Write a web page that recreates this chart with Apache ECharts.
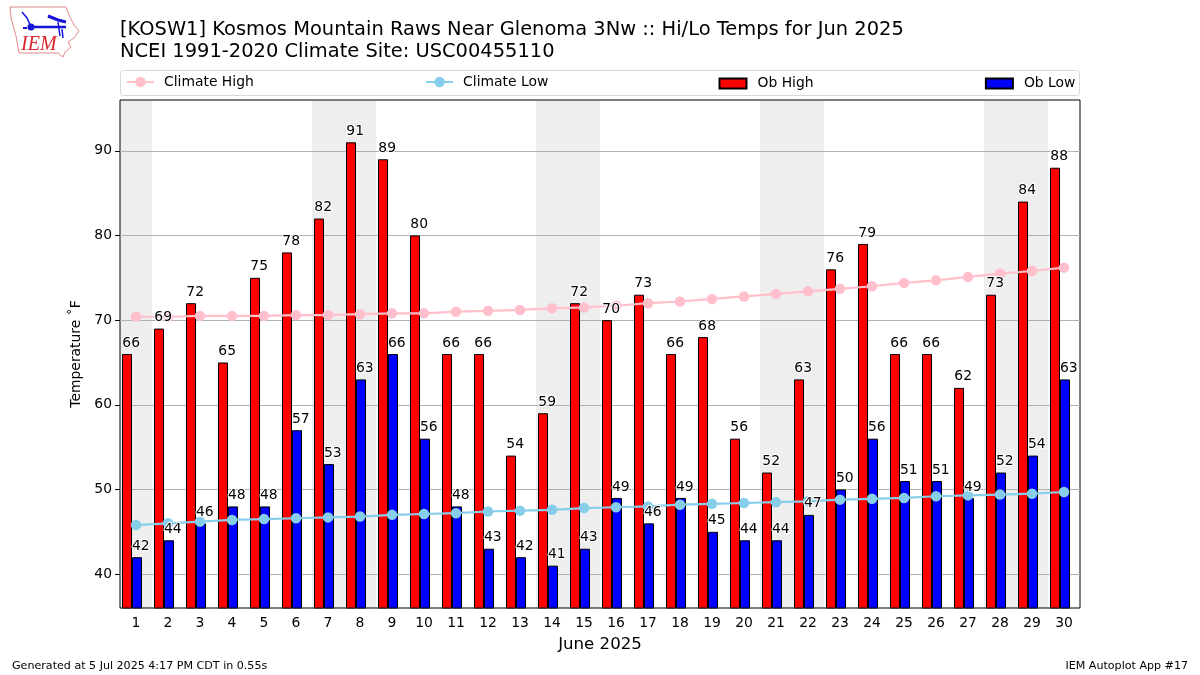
<!DOCTYPE html>
<html lang="en">
<head>
	<meta charset="utf-8">
	<title>Hi/Lo Temps for Jun 2025</title>
	<script src="https://cdn.jsdelivr.net/npm/echarts@6/dist/echarts.min.js"></script>
	<style>
		html, body { margin: 0; padding: 0; background: #fff; }
		#chart { width: 1200px; height: 675px; }
	</style>
</head>
<body>
	<div id="chart"></div>

<script type="text/javascript">
	var days = [1,2,3,4,5,6,7,8,9,10,11,12,13,14,15,16,17,18,19,20,21,22,23,24,25,26,27,28,29,30];
	var obHigh = [66,69,72,65,75,78,82,91,89,80,66,66,54,59,72,70,73,66,68,56,52,63,76,79,66,66,62,73,84,88];
	var obLow = [42,44,46,48,48,57,53,63,66,56,48,43,42,41,43,49,46,49,45,44,44,47,50,56,51,51,49,52,54,63];
	var climateHigh = [70.4,70.4,70.5,70.5,70.5,70.6,70.6,70.7,70.8,70.8,71.0,71.1,71.2,71.4,71.5,71.7,72.0,72.2,72.5,72.8,73.1,73.4,73.7,74.0,74.4,74.7,75.1,75.5,75.8,76.2];
	var climateLow = [45.8,46.0,46.2,46.4,46.5,46.6,46.7,46.8,47.0,47.1,47.2,47.4,47.5,47.6,47.8,47.9,48.0,48.2,48.3,48.4,48.5,48.6,48.8,48.9,49.0,49.2,49.3,49.4,49.5,49.7];
	var weekendDays = [1,7,8,14,15,21,22,28,29];
	var yTicks = [40,50,60,70,80,90];
	var yMin = 36, yMax = 96;

	var font = 'DejaVu Sans';
	var logoBlue = '#1414d8';

	// text only series so the numbers sit above the climate lines
	function labelSeries(name, values, shift) {
		return {
			name: name,
			type: 'scatter',
			symbolSize: 0,
			z: 5,
			silent: true,
			itemStyle: { opacity: 1 },
			data: values,
			label: {
				show: true,
				position: 'top',
				distance: 4,
				offset: [shift, 0],
				color: '#000',
				fontFamily: font,
				fontSize: 13.9,
				textBorderColor: '#fff',
				textBorderWidth: 2
			}
		};
	}

	function barSeries(name, color, values, width) {
		return {
			name: name,
			type: 'bar',
			barWidth: width,
			barGap: 0,
			z: 2,
			itemStyle: { color: color, borderColor: '#000', borderWidth: 1 },
			data: values
		};
	}

	function lineSeries(name, color, values) {
		return {
			name: name,
			type: 'line',
			z: 3,
			symbol: 'circle',
			symbolSize: 10.5,
			lineStyle: { color: color, width: 2.2 },
			itemStyle: { color: color },
			data: values
		};
	}

	function logoLine(points, width) {
		return { type: 'polyline', silent: true, shape: { points: points }, style: { fill: null, stroke: logoBlue, lineWidth: width } };
	}

	var legendText = { fontFamily: font, fontSize: 13.9, color: '#000', padding: [0, 0, 0, 5] };

	var option = {
		animation: false,
		textStyle: { fontFamily: font },
		title: [
			{
				text: '[KOSW1] Kosmos Mountain Raws Near Glenoma 3Nw :: Hi/Lo Temps for Jun 2025\nNCEI 1991-2020 Climate Site: USC00455110',
				left: 120, top: 19, padding: 0,
				textStyle: { fontFamily: font, fontSize: 19.45, fontWeight: 'normal', color: '#000', lineHeight: 22 }
			},
			{
				text: 'Generated at 5 Jul 2025 4:17 PM CDT in 0.55s',
				left: 12, top: 661, padding: 0,
				textStyle: { fontFamily: font, fontSize: 11.1, fontWeight: 'normal', color: '#000' }
			},
			{
				text: 'IEM Autoplot App #17',
				right: 12, top: 661, padding: 0,
				textStyle: { fontFamily: font, fontSize: 11.1, fontWeight: 'normal', color: '#000' }
			}
		],
		legend: [
			{
				data: ['Climate High', 'Climate Low'],
				left: 126, top: 75, padding: 0,
				itemGap: 171.3,
				itemWidth: 27,
				itemHeight: 13,
				textStyle: legendText
			},
			{
				data: ['Ob High', 'Ob Low'],
				left: 718.5, top: 76.5, padding: 0,
				icon: 'rect',
				itemGap: 171.3,
				itemWidth: 27,
				itemHeight: 10,
				textStyle: { fontFamily: font, fontSize: 13.9, color: '#000', padding: [0, 0, 0, 6] }
			}
		],
		grid: {
			left: 120, right: 120, top: 100, bottom: 67,
			show: true,
			borderColor: '#000',
			borderWidth: 1,
			backgroundColor: 'transparent'
		},
		xAxis: [
			{
				type: 'category',
				data: days,
				name: 'June 2025',
				nameLocation: 'middle',
				nameGap: 28,
				nameTextStyle: { fontFamily: font, fontSize: 16.6, color: '#000' },
				axisLine: { show: false },
				axisTick: { alignWithLabel: true, length: 5, lineStyle: { color: '#000' } },
				axisLabel: { interval: 0, margin: 8, fontFamily: font, fontSize: 13.9, color: '#000' },
				splitLine: { show: false }
			},
			{
				// carries only the weekend bands
				type: 'category',
				data: days,
				show: false
			}
		],
		yAxis: {
			type: 'value',
			min: yMin,
			max: yMax,
			name: 'Temperature ˚F',
			nameLocation: 'middle',
			nameGap: 37,
			nameTextStyle: { fontFamily: font, fontSize: 13.9, color: '#000' },
			axisLine: { show: false },
			axisTick: { show: true, length: 5, customValues: yTicks, lineStyle: { color: '#000' } },
			axisLabel: { customValues: yTicks, margin: 8, fontFamily: font, fontSize: 13.9, color: '#000' },
			splitLine: { show: true, lineStyle: { color: '#b0b0b0', width: 1 } }
		},
		graphic: [
			// legend frame
			{ type: 'rect', silent: true, shape: { x: 120.5, y: 70.5, width: 959, height: 25, r: 3 }, style: { fill: '#fff', stroke: '#d8d8d8', lineWidth: 1 } },
			// IEM logo
			{ type: 'polygon', silent: true, shape: { points: [[10,7],[66,7],[69,15],[74,25],[79,31],[74,38],[68,42],[71,47],[65,52],[63,57],[58,53],[19,53],[16,36],[11,18]] }, style: { fill: '#fff', stroke: '#e08a8a', lineWidth: 1 } },
			logoLine([[22,12],[27,18],[31,27]], 1.5),
			logoLine([[31,27],[66,27]], 2.5),
			logoLine([[48,16],[58,20],[66,22]], 3),
			logoLine([[58,22],[60,36]], 1.5),
			logoLine([[62,29],[63,38]], 1.5),
			logoLine([[23,28],[27,28]], 2),
			{ type: 'circle', silent: true, shape: { cx: 31, cy: 27, r: 3.5 }, style: { fill: logoBlue } },
			{ type: 'text', silent: true, left: 21, top: 35, style: { text: 'IEM', fill: '#d8262c', fontFamily: 'Liberation Serif', fontStyle: 'italic', fontSize: 20 } }
		],
		series: [
			{
				name: 'Weekend',
				type: 'bar',
				xAxisIndex: 1,
				barWidth: '100%',
				z: -1,
				silent: true,
				itemStyle: { color: '#eeeeee' },
				data: days.map(function (d) { return weekendDays.indexOf(d) >= 0 ? yMax : null; })
			},
			barSeries('Ob High', '#ff0000', obHigh, 10),
			barSeries('Ob Low', '#0000ff', obLow, 10),
			// empty slot, puts the low bar on the tick
			barSeries('Spacer', 'transparent', [], 8),
			lineSeries('Climate High', '#ffc0cb', climateHigh),
			lineSeries('Climate Low', '#87ceeb', climateLow),
			labelSeries('High labels', obHigh, -4.8),
			labelSeries('Low labels', obLow, 4.8)
		]
	};

	var myChart = echarts.init(document.getElementById('chart'), null, { renderer: 'canvas' });
	myChart.setOption(option);
</script>
</body>
</html>
